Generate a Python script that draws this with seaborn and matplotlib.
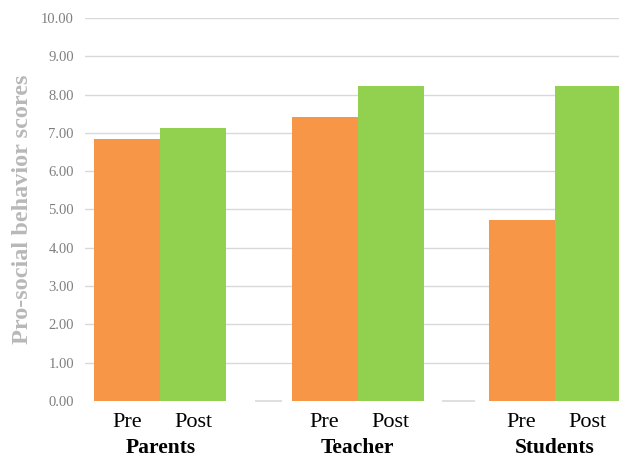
import numpy as np
import pandas as pd
import matplotlib
matplotlib.use("Agg")
import matplotlib.pyplot as plt
import seaborn as sns

groups = ["Parents", "Teacher", "Students"]
times = ["Pre", "Post"]
pre_scores = [6.84, 7.41, 4.73]
post_scores = [7.14, 8.22, 8.22]
ytick_values = [0, 1, 2, 3, 4, 5, 6, 7, 8, 9, 10]
colors = ["#F79646", "#92D050"]

df = pd.DataFrame({
    "group": groups * 2,
    "time": ["Pre"] * 3 + ["Post"] * 3,
    "score": pre_scores + post_scores,
})

sns.set_theme(style="white")
plt.rcParams["font.family"] = ["Liberation Serif", "DejaVu Serif"]

fig = plt.figure(figsize=(6.19, 4.58), dpi=100)
ax = fig.add_axes([85 / 619, 1 - 401 / 458, 534 / 619, (401 - 18) / 458])

bar_w = 0.67
sns.barplot(data=df, x="group", y="score", hue="time", order=groups,
            hue_order=times, palette=colors, saturation=1, width=bar_w,
            gap=0, linewidth=0, legend=False, ax=ax)

ax.set_ylim(0, 10)
ax.set_xlim(-0.383, 2.327)
ax.set_yticks(ytick_values)
ax.set_yticklabels([f"{v:.2f}" for v in ytick_values], fontsize=10.5, color="#7f7f7f")
ax.tick_params(axis="y", length=0, pad=8)
ax.set_axisbelow(True)
ax.yaxis.grid(True, color="#d9d9d9", linewidth=1.0)
ax.yaxis.get_gridlines()[0].set_visible(False)
for s in ax.spines.values():
    s.set_visible(False)

# short baseline pieces in the gaps between groups
ax.hlines([0, 0], [0.48, 1.43], [0.617, 1.597], color="#d9d9d9", linewidth=1.2, clip_on=False)

ax.set_xticks([])
ax.set_xlabel("")
ax.set_ylabel("Pro-social behavior scores", fontsize=17.5, fontweight="bold",
              color="#b8b8b8")
ax.yaxis.set_label_coords(-0.097, 0.5)

half = bar_w / 4
for i, g in enumerate(groups):
    for j, t in enumerate(times):
        xc = i + (j * 2 - 1) * half
        ax.annotate(t, xy=(xc, 0), xycoords=("data", "axes fraction"),
                    xytext=(0, -19), textcoords="offset points",
                    ha="center", va="baseline", fontsize=16, color="black",
                    annotation_clip=False)
    ax.annotate(g, xy=(i, 0), xycoords=("data", "axes fraction"),
                xytext=(0, -37.5), textcoords="offset points",
                ha="center", va="baseline", fontsize=15.5, fontweight="bold",
                color="black", annotation_clip=False)

fig.savefig("out.png", dpi=100)
